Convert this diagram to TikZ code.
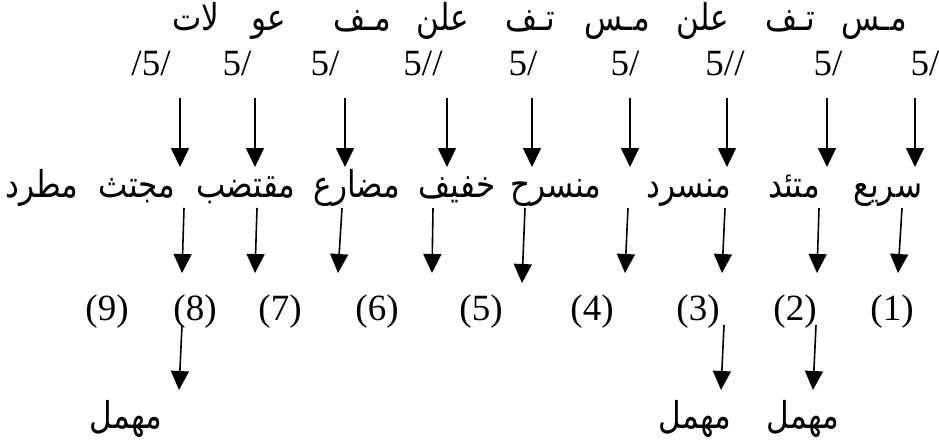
\documentclass[tikz,border=0pt]{standalone}
\usepackage{fontspec}
\setmainfont{Liberation Serif}
\newfontfamily\arabicfont[Script=Arabic,FakeStretch=0.84]{DejaVu Sans}
\TeXXeTstate=1
\usetikzlibrary{arrows.meta}

\tikzset{
  latin/.style={font=\fontsize{37}{40}\selectfont, anchor=base, inner sep=0pt},
  arab/.style={font=\fontsize{37}{40}\arabicfont, anchor=base, inner sep=0pt},
  down/.style={line width=1.6pt, -{Triangle[width=18pt,length=19pt]}},
}

\begin{document}
\begin{tikzpicture}[x=1pt,y=-1pt]
\useasboundingbox (0,0) rectangle (939,440);

\foreach \w/\x [count=\i] in {مـس/874, تـف/790, علن/703, مـس/617, تـف/530, علن/443, مـف/362, عو/269, لات/196}
  \node[arab] (syl\i) at (\x,30) {\beginR\w\endR};

\foreach \x/\t [count=\i] in {925/{5/}, 828/{5/}, 725/{5//}, 625/{5/}, 523/{5/}, 423/{5//}, 325/{5/}, 237/{5/}, 151/{/5/}}
  \node[latin] (mark\i) at (\x,75) {\t};

\foreach \w/\x [count=\i] in {سريع/888, متئد/794, منسرد/689, منسرح/556, خفيف/457, مضارع/357, مقتضب/246, مجتث/137, مطرد/42}
  \node[arab] (bahr\i) at (\x,197) {\beginR\w\endR};

\foreach \x [count=\i] in {892, 795, 698, 592, 481, 377, 280, 195, 107}
  \node[latin] (num\i) at (\x,320) {(\i)};

\foreach \x/\n in {803/2, 695/3, 126/8}
  \node[arab] (muhmal\n) at (\x,428) {\beginR مهمل\endR};

\foreach \x [count=\i] in {915, 827, 727, 630, 532, 447, 345, 255, 180} {
  \coordinate (a\i) at (\x,98);
  \coordinate (b\i) at (\x,167);
  \draw[down] (a\i) -- (b\i);
}

\foreach \x/\y/\z [count=\i] in {902/898/273, 819/817/273, 725/722/273, 628/625/273, 525/522/283, 433/432/273, 342/338/273, 257/255/273, 184/182/273} {
  \coordinate (c\i) at (\x,208);
  \coordinate (d\i) at (\y,\z);
  \draw[down] (c\i) -- (d\i);
}

\foreach \x/\y/\n in {816/813/2, 724/721/3, 182/179/8} {
  \coordinate (e\n) at (\x,325);
  \coordinate (f\n) at (\y,390);
  \draw[down] (e\n) -- (f\n);
}
\end{tikzpicture}
\end{document}
